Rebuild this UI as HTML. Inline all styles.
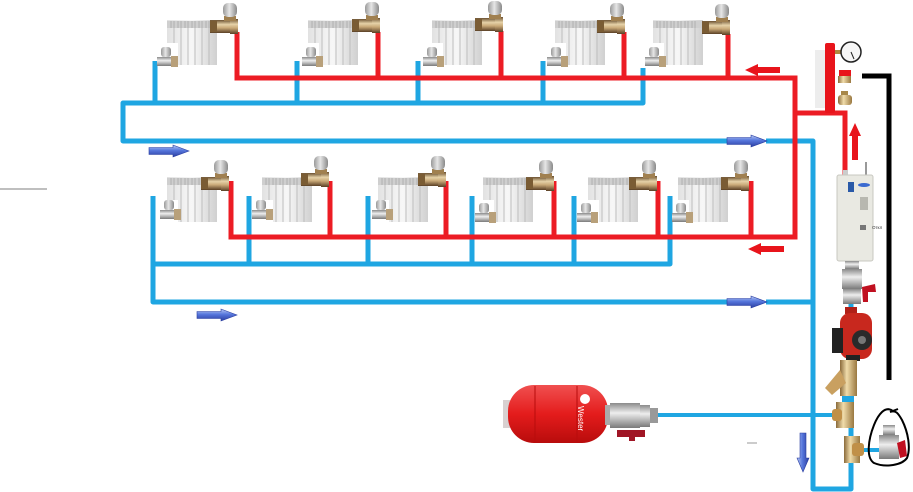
<!DOCTYPE html>
<html><head><meta charset="utf-8"><style>
html,body{margin:0;padding:0;background:#fff;}
svg{display:block;}
</style></head><body>
<svg width="913" height="492" viewBox="0 0 913 492" xmlns="http://www.w3.org/2000/svg" font-family="Liberation Sans, sans-serif">
<defs>
  <linearGradient id="radg" x1="0" y1="0" x2="1" y2="0">
    <stop offset="0" stop-color="#e2e2e2"/><stop offset="0.5" stop-color="#f7f7f7"/><stop offset="1" stop-color="#d0d0d0"/>
  </linearGradient>
  <linearGradient id="brass" x1="0" y1="0" x2="0" y2="1">
    <stop offset="0" stop-color="#6b5030"/><stop offset="0.35" stop-color="#e6d2a8"/><stop offset="0.6" stop-color="#c9a978"/><stop offset="1" stop-color="#5a4025"/>
  </linearGradient>
  <linearGradient id="cap" x1="0" y1="0" x2="1" y2="0">
    <stop offset="0" stop-color="#9a9a9a"/><stop offset="0.45" stop-color="#e6e6e6"/><stop offset="1" stop-color="#8a8a8a"/>
  </linearGradient>
  <linearGradient id="silver" x1="0" y1="0" x2="0" y2="1">
    <stop offset="0" stop-color="#8a8a8a"/><stop offset="0.4" stop-color="#eeeeee"/><stop offset="1" stop-color="#7a7a7a"/>
  </linearGradient>
  <linearGradient id="barr" x1="0" y1="0" x2="0" y2="1">
    <stop offset="0" stop-color="#b8c8f4"/><stop offset="0.45" stop-color="#5676dc"/><stop offset="1" stop-color="#2a3ea0"/>
  </linearGradient>
  <linearGradient id="barrv" x1="0" y1="0" x2="1" y2="0">
    <stop offset="0" stop-color="#b8c8f4"/><stop offset="0.45" stop-color="#5676dc"/><stop offset="1" stop-color="#2a3ea0"/>
  </linearGradient>
  <linearGradient id="tankg" x1="0" y1="0" x2="0" y2="1">
    <stop offset="0" stop-color="#f05050"/><stop offset="0.5" stop-color="#e41c1c"/><stop offset="1" stop-color="#b80c0c"/>
  </linearGradient>
  <linearGradient id="brassv" x1="0" y1="0" x2="1" y2="0">
    <stop offset="0" stop-color="#8a6a3a"/><stop offset="0.4" stop-color="#f0dcaa"/><stop offset="1" stop-color="#9a7840"/>
  </linearGradient>

  <g id="rad">
    <path d="M0,0 H50 V45 H11 V23 H0 Z" fill="url(#radg)"/>
    <rect x="0" y="1" width="50" height="7" fill="#cfcfcf"/>
    <g stroke="#a8a8a8" stroke-width="0.8">
      <line x1="4" y1="1" x2="4" y2="8"/><line x1="7" y1="1" x2="7" y2="8"/>
      <line x1="11" y1="1" x2="11" y2="8"/><line x1="14" y1="1" x2="14" y2="8"/>
      <line x1="18" y1="1" x2="18" y2="8"/><line x1="21" y1="1" x2="21" y2="8"/>
      <line x1="25" y1="1" x2="25" y2="8"/><line x1="28" y1="1" x2="28" y2="8"/>
      <line x1="32" y1="1" x2="32" y2="8"/><line x1="35" y1="1" x2="35" y2="8"/>
      <line x1="39" y1="1" x2="39" y2="8"/><line x1="42" y1="1" x2="42" y2="8"/>
    </g>
    <g stroke="#bdbdbd" stroke-width="1">
      <line x1="7" y1="8" x2="7" y2="23"/>
      <line x1="14" y1="8" x2="14" y2="45"/><line x1="21" y1="8" x2="21" y2="45"/>
      <line x1="28" y1="8" x2="28" y2="45"/><line x1="35" y1="8" x2="35" y2="45"/>
      <line x1="42" y1="8" x2="42" y2="45"/>
    </g>
  </g>
  <g id="tv">
    <rect x="0" y="0" width="28" height="13" fill="url(#brass)"/>
    <rect x="0" y="1" width="7" height="11" fill="#7a5c34"/>
    <rect x="20" y="-1" width="8" height="15" fill="url(#brass)"/>
    <rect x="14" y="-4" width="12" height="5" fill="#a08050"/>
    <rect x="13" y="-17" width="14" height="14" rx="5" fill="url(#cap)"/>
  </g>
  <g id="rv">
    <rect x="4" y="0" width="10" height="10" rx="3" fill="url(#cap)"/>
    <rect x="0" y="10" width="21" height="9" fill="url(#silver)"/>
    <rect x="14" y="9" width="7" height="11" fill="#b8a07a"/>
  </g>
  <path id="arr" d="M0,-3.5 H24 V-6 L40,0 L24,6 V3.5 H0 Z"/>
</defs>

<!-- left grey line -->
<line x1="0" y1="189" x2="47" y2="189" stroke="#999" stroke-width="1.2"/>
<line x1="747" y1="443" x2="757" y2="443" stroke="#999" stroke-width="1"/>

<!-- BLUE PIPES -->
<g fill="none" stroke="#1fa6e2" stroke-width="5" stroke-linejoin="round">
  <path d="M643,68 V103 H123 V141 H727"/>
  <path d="M766,141 H813 V489 H851 V300"/>
  <path d="M155,61 V103"/><path d="M297,61 V103"/><path d="M418,61 V103"/><path d="M543,61 V103"/>
  <path d="M153,196 V302 H727"/>
  <path d="M766,302 H813"/>
  <path d="M153,264 H670 V196"/>
  <path d="M249,196 V264"/><path d="M368,196 V264"/><path d="M472,196 V264"/><path d="M574,196 V264"/>
  <path d="M657,415 H836" stroke-width="4"/>
  <path d="M862,450 H882" stroke-width="4"/>
</g>

<!-- RED PIPES -->
<g fill="none" stroke="#ec1c24" stroke-width="5" stroke-linejoin="miter">
  <path d="M237,32 V78 H795 V237 H231 V181"/>
  <path d="M378,32 V78"/><path d="M501,31 V78"/><path d="M624,32 V78"/><path d="M728,34 V78"/>
  <path d="M330,181 V237"/><path d="M446,181 V237"/><path d="M554,181 V237"/><path d="M658,181 V237"/><path d="M751,181 V237"/>
  <path d="M795,113 H845 V176"/>
</g>

<!-- black line -->
<path d="M862,76 H889 V380" fill="none" stroke="#000" stroke-width="5"/>

<!-- top radiators -->
<use href="#rad" x="167" y="20"/><use href="#rad" x="308" y="20"/><use href="#rad" x="432" y="20"/><use href="#rad" x="555" y="20"/><use href="#rad" x="653" y="20"/>
<use href="#tv" x="210" y="20"/><use href="#tv" x="352" y="19"/><use href="#tv" x="475" y="18"/><use href="#tv" x="597" y="20"/><use href="#tv" x="702" y="21"/>
<use href="#rv" x="157" y="47"/><use href="#rv" x="302" y="47"/><use href="#rv" x="423" y="47"/><use href="#rv" x="547" y="47"/><use href="#rv" x="645" y="47"/>

<!-- bottom radiators -->
<use href="#rad" x="167" y="177"/><use href="#rad" x="262" y="177"/><use href="#rad" x="378" y="177"/><use href="#rad" x="483" y="177"/><use href="#rad" x="588" y="177"/><use href="#rad" x="678" y="177"/>
<use href="#tv" x="201" y="177"/><use href="#tv" x="301" y="173"/><use href="#tv" x="418" y="173"/><use href="#tv" x="526" y="177"/><use href="#tv" x="629" y="177"/><use href="#tv" x="721" y="177"/>
<use href="#rv" x="160" y="200"/><use href="#rv" x="252" y="200"/><use href="#rv" x="372" y="200"/><use href="#rv" x="475" y="203"/><use href="#rv" x="577" y="203"/><use href="#rv" x="672" y="203"/>

<!-- arrows blue -->
<g fill="url(#barr)" stroke="#2a3ea0" stroke-width="0.6">
  <use href="#arr" transform="translate(149,151)"/>
  <use href="#arr" transform="translate(197,315)"/>
  <use href="#arr" transform="translate(727,141)"/>
  <use href="#arr" transform="translate(727,302)"/>
</g>
<path d="M800,433 H806 V458 H809 L803,472 L797,458 H800 Z" fill="url(#barrv)" stroke="#2a3ea0" stroke-width="0.6"/>
<!-- arrows red -->
<path d="M780,67 H758 V64 L745,70 L758,76 V73 H780 Z" fill="#e8141b"/>
<path d="M784,246 H761 V243 L748,249 L761,255 V252 H784 Z" fill="#e8141b"/>
<path d="M852,160 V136 H849 L855,123 L861,136 H858 V160 Z" fill="#e8141b"/>

<!-- manifold -->
<rect x="815" y="50" width="10" height="58" fill="#e9e9e9" opacity="0.8"/>
<rect x="825" y="43" width="10" height="70" rx="2" fill="#e8141b"/>
<rect x="835" y="50" width="6" height="4" fill="#b08a40"/>
<circle cx="851" cy="52" r="10" fill="#f6f6f6" stroke="#222" stroke-width="1.5"/>
<line x1="851" y1="52" x2="854" y2="59" stroke="#222" stroke-width="1"/>
<rect x="839" y="70" width="12" height="6" fill="#e8141b"/>
<rect x="838" y="76" width="13" height="7" fill="url(#brassv)"/>
<rect x="838" y="95" width="14" height="10" rx="3" fill="url(#brassv)"/>
<rect x="841" y="91" width="7" height="4" fill="#a8884a"/>

<!-- boiler -->
<rect x="843" y="170" width="5" height="8" fill="#ccc"/>
<line x1="866" y1="162" x2="866" y2="176" stroke="#777" stroke-width="1.5"/>
<rect x="837" y="175" width="36" height="86" rx="2" fill="#e9e9e2" stroke="#c8c8c0" stroke-width="1"/>
<rect x="848" y="182" width="6" height="10" fill="#2a5aa8"/>
<ellipse cx="864" cy="185" rx="6" ry="2" fill="#3a6ad0"/>
<rect x="860" y="197" width="8" height="13" fill="#b8b8b0"/>
<rect x="860" y="225" width="6" height="5" fill="#777"/>
<text x="872" y="229" font-size="4.5" fill="#333">Откл</text>

<!-- ball valve under boiler -->
<rect x="845" y="261" width="14" height="8" fill="url(#silver)"/>
<rect x="842" y="269" width="20" height="20" fill="url(#silver)"/>
<rect x="843" y="289" width="18" height="15" fill="url(#silver)"/>
<path d="M862,287 L875,284 L876,292 L868,292 L868,302 L863,302 Z" fill="#c01020"/>

<!-- pump -->
<rect x="845" y="307" width="12" height="7" fill="#b02018"/>
<rect x="840" y="313" width="32" height="46" rx="10" fill="#c8281e"/>
<rect x="832" y="328" width="11" height="25" fill="#222"/>
<circle cx="862" cy="340" r="10" fill="#2a2a2a"/>
<circle cx="862" cy="340" r="4" fill="#777"/>
<rect x="846" y="355" width="14" height="6" fill="#222"/>

<!-- filter -->
<path d="M840,360 H857 V396 H840 Z" fill="url(#brassv)"/>
<path d="M840,370 L825,388 L832,395 L846,383 Z" fill="#c9a060"/>
<rect x="842" y="396" width="12" height="6" fill="#1fa6e2"/>

<!-- tee 1 -->
<rect x="836" y="402" width="18" height="26" fill="url(#brassv)"/>
<rect x="832" y="409" width="10" height="12" rx="3" fill="#c09048"/>
<!-- tee 2 -->
<rect x="844" y="436" width="16" height="27" fill="url(#brassv)"/>
<rect x="852" y="443" width="12" height="13" rx="3" fill="#c09048"/>

<!-- circled valve -->
<rect x="883" y="425" width="12" height="10" fill="url(#silver)"/>
<rect x="879" y="435" width="20" height="24" fill="url(#silver)"/>
<path d="M897,443 L905,440 L907,456 L900,458 Z" fill="#c01020"/>
<path d="M893,411 C885,405 878,415 874,425 C868,440 866,458 874,463 C886,468 902,465 907,458 C911,448 908,432 902,420 C898,413 896,410 890,412 L898,409" fill="none" stroke="#000" stroke-width="2"/>

<!-- expansion tank -->
<rect x="503" y="400" width="7" height="28" fill="#d8d0d0"/>
<rect x="508" y="385" width="100" height="58" rx="26" fill="url(#tankg)"/>
<line x1="535" y1="386" x2="535" y2="442" stroke="#b80c0c" stroke-width="1"/>
<line x1="577" y1="386" x2="577" y2="442" stroke="#b80c0c" stroke-width="1"/>
<circle cx="585" cy="399" r="5" fill="#fff"/>
<text transform="translate(578,406) rotate(90)" font-size="8" fill="#fff">Wester</text>
<rect x="605" y="405" width="5" height="20" fill="#aaa"/>
<rect x="610" y="403" width="30" height="25" fill="url(#silver)"/>
<rect x="640" y="405" width="10" height="22" fill="url(#silver)"/>
<rect x="650" y="408" width="8" height="15" fill="#999"/>
<path d="M617,430 H645 V437 H635 V441 H629 V437 H617 Z" fill="#a01525"/>
</svg>
</body></html>
